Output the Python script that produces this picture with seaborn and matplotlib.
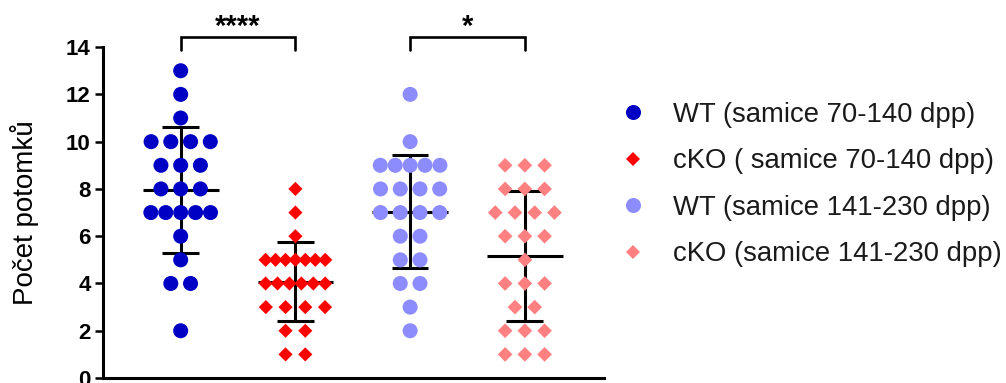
import numpy as np
import pandas as pd
import matplotlib
matplotlib.use("Agg")
import matplotlib.pyplot as plt
import seaborn as sns

# Groups (legend labels, plotting order)
groups = [
    "WT (samice 70-140 dpp)",
    "cKO ( samice 70-140 dpp)",
    "WT (samice 141-230 dpp)",
    "cKO (samice 141-230 dpp)",
]

# Litter sizes per female
wt_early = [13, 12, 11, 10, 10, 10, 10, 9, 9, 9, 8, 8, 8,
            7, 7, 7, 7, 7, 6, 5, 4, 4, 2]
cko_early = [8, 7, 6, 5, 5, 5, 5, 5, 5, 5, 4, 4, 4, 4, 4, 4,
             3, 3, 3, 3, 2, 2, 1, 1]
wt_late = [12, 10, 9, 9, 9, 9, 9, 8, 8, 8, 8, 7, 7, 7, 7,
           6, 6, 5, 5, 4, 4, 3, 2]
cko_late = [9, 9, 9, 8, 8, 8, 7, 7, 7, 7, 6, 6, 6, 5, 4, 4, 4,
            3, 3, 2, 2, 2, 1, 1, 1]

y_ticks = [0, 2, 4, 6, 8, 10, 12, 14]
y_label = "Počet potomků"
comparisons = [(0, 1, "****"), (2, 3, "*")]

colors = {groups[0]: "#0000C4", groups[1]: "#FF0000",
          groups[2]: "#8C8CFF", groups[3]: "#FF8080"}
markers = {groups[0]: "o", groups[1]: "D", groups[2]: "o", groups[3]: "D"}
sizes = {groups[0]: 117, groups[1]: 52, groups[2]: 117, groups[3]: 56}


def row_offsets(values, step=0.172, span=0.52):
    """Spread equal values side by side in a centred row."""
    values = np.asarray(values)
    x = np.zeros(len(values))
    for v in np.unique(values):
        idx = np.where(values == v)[0]
        n = len(idx)
        if n > 1:
            d = min(step, span / (n - 1))
            x[idx] = (np.arange(n) - (n - 1) / 2) * d
    return x


series = [wt_early, cko_early, wt_late, cko_late]
frames = []
for i, (name, vals) in enumerate(zip(groups, series)):
    frames.append(pd.DataFrame({
        "skupina": name,
        "pozice": i + row_offsets(vals),
        "pocet": vals,
    }))
df = pd.concat(frames, ignore_index=True)

sns.set_style("ticks")
plt.rcParams["font.family"] = ["Liberation Sans", "DejaVu Sans"]
plt.rcParams["text.color"] = "black"
plt.rcParams["axes.labelcolor"] = "black"
plt.rcParams["ytick.color"] = "black"

fig = plt.figure(figsize=(10.06, 3.83), dpi=100)
ax = fig.add_axes([0.1024, 0.013, 0.498, 0.864])

# mean +- SD
for i, vals in enumerate(series):
    m = np.mean(vals)
    s = np.std(vals, ddof=1)
    ax.hlines(m, i - 0.33, i + 0.33, color="black", lw=2.2, zorder=2)
    ax.vlines(i, m - s, m + s, color="black", lw=2.2, zorder=2)
    ax.hlines([m - s, m + s], i - 0.16, i + 0.16, color="black", lw=2.2, zorder=2)

sns.scatterplot(data=df, x="pozice", y="pocet", hue="skupina", style="skupina",
                size="skupina", palette=colors, markers=markers, sizes=sizes,
                hue_order=groups, style_order=groups, size_order=groups,
                linewidth=0, ax=ax, zorder=3, legend=True)

leg = ax.get_legend()
handles = leg.legend_handles
labels = [t.get_text() for t in leg.get_texts()]
leg.remove()
fig.legend(handles, labels, loc="center left", bbox_to_anchor=(0.616, 0.518),
           frameon=False, fontsize=19.8, handlelength=1.0, handletextpad=0.95,
           labelspacing=0.74, borderpad=0, borderaxespad=0, labelcolor="#1a1a1a")

# significance brackets
for a, b, stars in comparisons:
    ax.plot([a, a, b, b], [13.87, 14.42, 14.42, 13.87], color="black",
            lw=1.9, clip_on=False, solid_joinstyle="miter")
    ax.text((a + b) / 2, 14.52, stars, ha="center", va="baseline",
            fontsize=21, fontweight="bold", clip_on=False)

ax.set_xlim(-0.677, 3.69)
ax.set_ylim(0, 14)
ax.set_yticks(y_ticks)
ax.set_yticklabels([str(t) for t in y_ticks], fontweight="bold", fontsize=16)
ax.set_xticks([])
ax.set_xlabel("")
ax.set_ylabel(y_label, fontsize=20)
ax.yaxis.set_label_coords(-0.128, 0.5)
ax.tick_params(axis="y", length=6, width=1.8, color="black", pad=3)
for side in ["top", "right"]:
    ax.spines[side].set_visible(False)
for side in ["left", "bottom"]:
    ax.spines[side].set_linewidth(2.2)
    ax.spines[side].set_color("black")

fig.savefig("out.png", dpi=100)
